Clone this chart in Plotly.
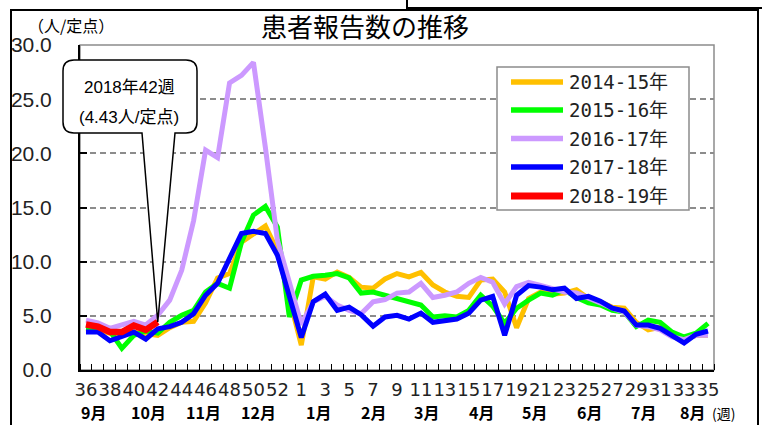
import plotly.graph_objects as go

# Surveillance weeks: 36..53, then 1..35 (53 slots; week 53 only exists in some seasons)
weeks = list(range(36, 54)) + list(range(1, 36))

season_labels = ["2014-15年", "2015-16年", "2016-17年", "2017-18年", "2018-19年"]
season_colors = ["#FFC000", "#00FF00", "#CC99FF", "#0000FF", "#FF0000"]

s2014_15 = [3.8, 3.7, 3.4, 3.3, 3.5, 3.4, 3.2, 3.9, 4.4, 4.5, 6.2, 8.5, 8.9, 11.8, 12.5, 13.3, 11.0, None, 2.3,
            8.6, 8.4, 9.05, 8.55, 7.65, 7.55, 8.4, 8.9, 8.6, 9.0,
            7.85, 7.2, 6.8, 6.7, 8.3, 8.4, 7.2, 3.9, 6.6, 7.2,
            7.0, 7.1, 7.4, 6.6, 6.3, 5.8, 5.7, 4.4, 3.7, 3.95,
            3.2, 2.8, 3.2, 3.2]
s2015_16 = [3.85, 3.9, 3.6, 2.0, 3.2, 3.6, 3.4, 4.4, 5.05, 5.5, 7.2, 8.0, 7.55, 11.8, 14.3, 15.1, 13.2, 4.9,
            8.3, 8.65, 8.75, 8.9, 8.5, 7.1, 7.2, 6.9, 6.7, 6.3,
            6.0, 4.9, 5.0, 4.9, 5.5, 6.9, 5.9, 4.3, 5.7, 6.45,
            7.1, 6.9, 7.4, 6.7, 6.2, 6.0, 5.5, 5.35, 4.0, 4.6,
            4.4, 3.5, 3.05, 3.4, 4.3]
s2016_17 = [4.6, 4.35, 3.85, 4.2, 4.5, 4.15, 5.05, 6.45, 9.2, 13.8, 20.3, 19.6, 26.5, 27.2, 28.4, 20.5, 12.0, None, 4.2,
            6.3, 6.8, 6.0, 5.5, 5.2, 6.3, 6.5, 7.1, 7.2, 8.0,
            6.7, 6.9, 7.2, 8.0, 8.55, 8.1, 6.1, 7.7, 8.1, 7.8,
            7.5, 7.2, 7.1, 6.7, 6.2, 5.7, 5.35, 4.15, 4.0, 3.7,
            3.05, 2.8, 3.2, 3.2]
s2017_18 = [3.5, 3.5, 2.7, 3.1, 3.5, 2.85, 3.8, 4.0, 4.4, 5.2, 6.9, 8.0, 10.4, 12.6, 12.8, 12.6, 10.6, None, 3.0,
            6.3, 7.0, 5.5, 5.8, 5.1, 4.05, 4.9, 5.05, 4.7, 5.25,
            4.4, 4.5, 4.7, 5.25, 6.45, 6.8, 3.2, 6.9, 7.8, 7.65,
            7.4, 7.55, 6.6, 6.8, 6.35, 5.7, 5.45, 4.15, 4.15, 3.85,
            3.2, 2.5, 3.3, 3.6]
s2018_19 = [4.2, 4.0, 3.5, 3.5, 4.1, 3.7, 4.43]

months = ["9月", "10月", "11月", "12月", "1月", "2月", "3月", "4月", "5月", "6月", "7月", "8月"]
month_pos = [0.6, 5.2, 9.8, 14.4, 19.4, 24.0, 28.5, 33.1, 37.5, 42.1, 46.6, 50.7]

callout_week = 42
callout_value = 4.43

# ---- geometry of the figure (pixels) ----
W, H = 762, 425
L, R, T, B = 80, 48, 45, 55
PW, PH = W - L - R, H - T - B
X_RANGE = [-0.5, len(weeks) - 0.5]
Y_RANGE = [0, 30]


def px_x(p):
    return (p - L) / PW


def px_y(p):
    return (T + PH - p) / PH


def data_x(v):
    return (v - X_RANGE[0]) / (X_RANGE[1] - X_RANGE[0])


def data_y(v):
    return (v - Y_RANGE[0]) / (Y_RANGE[1] - Y_RANGE[0])


def label(x, y, text, size, family="Noto Sans CJK JP", xanchor="center", xref="paper", color="black"):
    return dict(xref=xref, yref="paper", x=x, y=y, text=text, showarrow=False,
                xanchor=xanchor, yanchor="middle",
                font=dict(family=family, size=size, color=color))


idx = list(range(len(weeks)))
series = [s2014_15, s2015_16, s2016_17, s2017_18, s2018_19]
widths = [5, 5, 5, 5, 6.5]

fig = go.Figure()
for name, vals, col, w in zip(season_labels, series, season_colors, widths):
    fig.add_trace(go.Scatter(
        x=idx[:len(vals)], y=vals, mode="lines", name=name,
        line=dict(color=col, width=w, shape="linear"),
        connectgaps=True, showlegend=False, hoverinfo="skip"))

shapes = []
annotations = []

# plot-area border (grey, top/right)
shapes.append(dict(type="rect", xref="paper", yref="paper", x0=0, y0=0, x1=1, y1=1,
                   line=dict(color="#8C8C8C", width=1.5), layer="below"))

# outer frame and the header box at the top right
shapes.append(dict(type="path", xref="paper", yref="paper",
                   path=f"M {px_x(11)},{px_y(440)} L {px_x(11)},{px_y(10)} L {px_x(758)},{px_y(10)} L {px_x(758)},{px_y(440)}",
                   line=dict(color="black", width=2)))
shapes.append(dict(type="path", xref="paper", yref="paper",
                   path=f"M {px_x(407)},{px_y(-5)} L {px_x(407)},{px_y(8)} L {px_x(770)},{px_y(8)}",
                   line=dict(color="black", width=2)))

# legend box
lg_x0, lg_y0, lg_x1, lg_y1 = 497, 67, 689, 210
shapes.append(dict(type="rect", xref="paper", yref="paper",
                   x0=px_x(lg_x0), y0=px_y(lg_y1), x1=px_x(lg_x1), y1=px_y(lg_y0),
                   line=dict(color="#8C8C8C", width=1.5), fillcolor="white", layer="above"))
row_y = [82, 110, 138.5, 167, 196]
for lab, col, w, ry in zip(season_labels, season_colors, widths, row_y):
    shapes.append(dict(type="line", xref="paper", yref="paper",
                       x0=px_x(511), x1=px_x(563), y0=px_y(ry), y1=px_y(ry),
                       line=dict(color=col, width=w + 0.5), layer="above"))
    annotations.append(label(px_x(567), px_y(ry), lab, 19,
                             family="DejaVu Sans Mono, Noto Sans CJK JP", xanchor="left", color="#222222"))

# callout balloon pointing at the latest value
ci = weeks.index(callout_week)
tipx, tipy = data_x(ci), data_y(callout_value)
bx0, bx1, by0, by1, r = 63, 197, 60, 133, 11
p1, p2 = 142, 175
path = (f"M {px_x(bx0 + r)},{px_y(by0)} L {px_x(bx1 - r)},{px_y(by0)} "
        f"Q {px_x(bx1)},{px_y(by0)} {px_x(bx1)},{px_y(by0 + r)} "
        f"L {px_x(bx1)},{px_y(by1 - r)} Q {px_x(bx1)},{px_y(by1)} {px_x(bx1 - r)},{px_y(by1)} "
        f"L {px_x(p2)},{px_y(by1)} L {tipx},{tipy} L {px_x(p1)},{px_y(by1)} "
        f"L {px_x(bx0 + r)},{px_y(by1)} Q {px_x(bx0)},{px_y(by1)} {px_x(bx0)},{px_y(by1 - r)} "
        f"L {px_x(bx0)},{px_y(by0 + r)} Q {px_x(bx0)},{px_y(by0)} {px_x(bx0 + r)},{px_y(by0)} Z")
shapes.append(dict(type="path", xref="paper", yref="paper", path=path,
                   line=dict(color="black", width=1.5), fillcolor="white", layer="above"))
annotations.append(label(px_x(129), px_y(87), f"2018年{callout_week}週", 17,
                         family="Liberation Sans, Noto Sans CJK JP"))
annotations.append(label(px_x(129), px_y(117), f"({callout_value:.2f}人/定点)", 17,
                         family="Liberation Sans, Noto Sans CJK JP"))

# title and unit
annotations.append(label(px_x(365), px_y(26), "患者報告数の推移", 26))
annotations.append(label(px_x(71), px_y(25), "（人/定点）", 16))

# month labels under the week numbers
for m, pos in zip(months, month_pos):
    annotations.append(label(pos, px_y(412), f"<b>{m}</b>", 16, xref="x"))
annotations.append(label(px_x(724), px_y(413), "(週)", 14))

tick_idx = [i for i in idx if i % 2 == 0]

fig.update_layout(
    width=W, height=H,
    margin=dict(l=L, r=R, t=T, b=B, pad=0),
    paper_bgcolor="white", plot_bgcolor="white",
    shapes=shapes, annotations=annotations,
    showlegend=False,
    xaxis=dict(
        range=X_RANGE, tickmode="array", tickvals=tick_idx,
        ticktext=[str(weeks[i]) for i in tick_idx],
        tickangle=0, ticks="", showgrid=False, zeroline=False,
        showline=True, linecolor="black", linewidth=2,
        tickfont=dict(family="DejaVu Sans", size=18, color="#222222"),
        ticklabelstandoff=2,
        minor=dict(tickmode="linear", tick0=0.5, dtick=1, ticks="inside", ticklen=6,
                   tickcolor="black", tickwidth=1.2, showgrid=False),
    ),
    yaxis=dict(
        range=Y_RANGE, tickmode="linear", tick0=0, dtick=5, tickformat=".1f",
        showgrid=True, gridcolor="#8C8C8C", gridwidth=1.5, griddash="6px,4px",
        zeroline=False, showline=True, linecolor="black", linewidth=2,
        ticks="inside", ticklen=7, tickcolor="black", tickwidth=1.5,
        tickfont=dict(family="Liberation Sans", size=21, color="#222222"),
        ticklabelstandoff=22,
    ),
)

fig.write_html("out.html")
